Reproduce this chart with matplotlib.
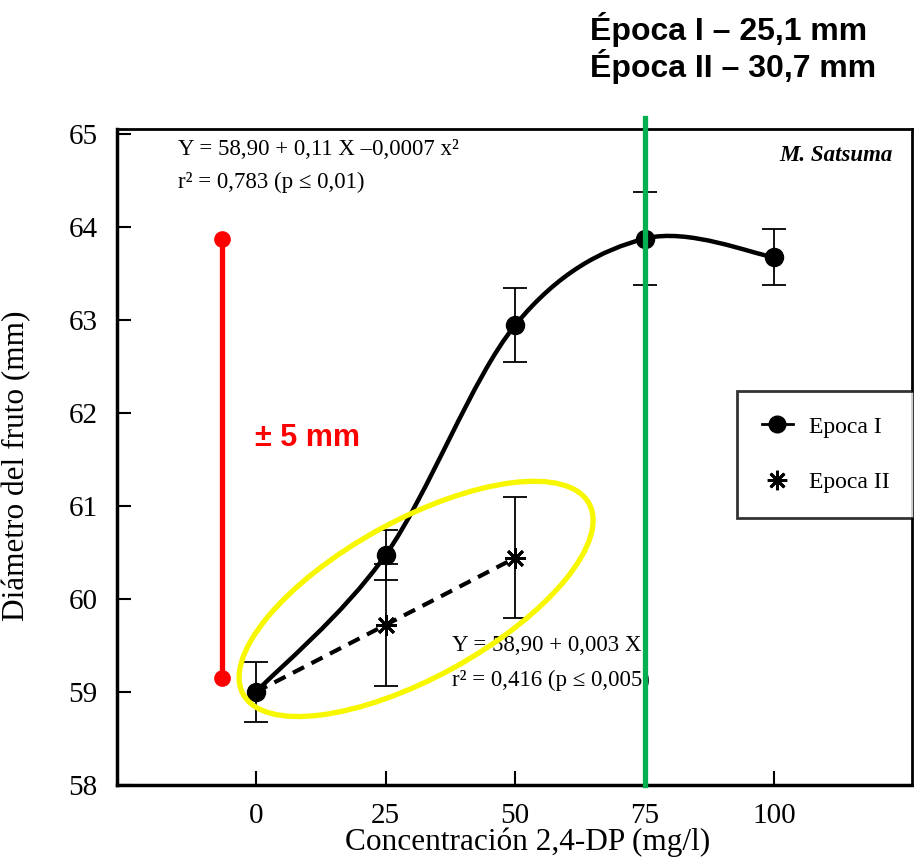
import numpy as np
import matplotlib
matplotlib.use('Agg')
import matplotlib.pyplot as plt
from matplotlib.path import Path
from matplotlib.patches import PathPatch, Ellipse
from matplotlib.lines import Line2D
from matplotlib.transforms import ScaledTranslation

# datos
conc = [0, 25, 50, 75, 100]
epoca1 = [59.00, 60.47, 62.94, 63.87, 63.67]
epoca1_err = [0.32, 0.27, 0.40, 0.50, 0.30]
conc2 = [0, 25, 50]
epoca2 = [59.00, 59.72, 60.44]
epoca2_err = [0.0, 0.66, 0.65]

# anotaciones añadidas
rango_x = -6.6
rango_y = [59.15, 63.87]
linea_verde_x = 75

serif = ['Liberation Serif', 'DejaVu Serif']
sans = ['Liberation Sans', 'DejaVu Sans']
plt.rcParams['font.family'] = serif

fig = plt.figure(figsize=(9.14, 8.59), dpi=100)
ax = fig.add_axes([0.128, 0.0861, 0.870, 0.7639])
ax.set_xlim(-26.8, 126.6)
ax.set_ylim(58, 65.05)

# curva suavizada de Epoca I (Catmull-Rom -> Bezier)
xs = np.array(conc, dtype=float)
ys = np.array(epoca1, dtype=float)
pts = np.column_stack([xs, ys])
ext = np.vstack([pts[0], pts, pts[-1]])
verts = [tuple(pts[0])]
codes = [Path.MOVETO]
for i in range(len(pts) - 1):
    p0, p1, p2, p3 = ext[i], ext[i + 1], ext[i + 2], ext[i + 3]
    c1 = p1 + (p2 - p0) / 6
    c2 = p2 - (p3 - p1) / 6
    verts += [tuple(c1), tuple(c2), tuple(p2)]
    codes += [Path.CURVE4] * 3
ax.add_patch(PathPatch(Path(verts, codes), facecolor='none', edgecolor='black', lw=3.2, zorder=3))

ax.errorbar(conc, epoca1, yerr=epoca1_err, fmt='o', color='black', ms=13,
            ecolor='black', elinewidth=1.3, capsize=8.5, capthick=1.3, zorder=4)

ax.plot(conc2, epoca2, color='black', lw=3, ls=(0, (3, 2)), zorder=3)
ax.errorbar(conc2[1:], epoca2[1:], yerr=epoca2_err[1:], fmt='none',
            ecolor='black', elinewidth=1.3, capsize=8.5, capthick=1.3, zorder=4)
ax.plot(conc2[1:], epoca2[1:], ls='none', marker=(8, 2, 0), ms=15, mew=2.0,
        color='black', zorder=5)

# ejes
for s in ax.spines.values():
    s.set_linewidth(2)
ax.spines['left'].set_linewidth(2.5)
ax.spines['bottom'].set_linewidth(2.5)
ax.set_xticks(conc)
ax.set_yticks(range(58, 66))
ax.tick_params(direction='in', length=10, width=1.5, labelsize=21, pad=13,
               top=False, right=False)
ax.tick_params(axis='y', pad=14)
ax.set_xlabel('Concentración 2,4-DP (mg/l)', fontsize=22.5)
ax.xaxis.set_label_coords(0.517, -0.065)
ax.set_ylabel('Diámetro del fruto (mm)', fontsize=22.5)
ax.yaxis.set_label_coords(-0.108, 0.486)

# textos de la figura original
eq_kw = dict(transform=ax.transAxes, fontsize=16.5, va='center', ha='left')
ax.text(0.077, 0.968, 'Y = 58,90 + 0,11 X –0,0007 x²', **eq_kw)
ax.text(0.077, 0.9185, 'r² = 0,783 (p ≤ 0,01)', **eq_kw)
ax.text(0.421, 0.2134, 'Y = 58,90 + 0,003 X', **eq_kw)
ax.text(0.421, 0.160, 'r² = 0,416 (p ≤ 0,005)', **eq_kw)
ax.text(0.976, 0.975, 'M. Satsuma', transform=ax.transAxes, fontsize=16.5,
        style='italic', weight='bold', va='top', ha='right')

handles = [Line2D([], [], color='black', marker='o', ms=12, lw=2),
           Line2D([], [], color='black', marker=(8, 2, 0), ms=14, mew=2.0, ls='none')]
leg = ax.legend(handles, ['Epoca I', 'Epoca II'], loc='upper left',
                bbox_to_anchor=(0.78, 0.409, 0.222, 0.191), mode='expand',
                fontsize=17, frameon=True, fancybox=False, edgecolor='black',
                handlelength=1.3, handletextpad=0.7, labelspacing=1.45,
                borderpad=1.05, borderaxespad=0)
leg.get_frame().set_linewidth(2)

# anotaciones en color
ax.plot([rango_x, rango_x], rango_y, color='#ff0000', lw=3.8, marker='o', ms=11,
        clip_on=False, zorder=6)
ax.text(0.279, 0.481, '± 5 mm', transform=fig.transFigure, color='#ff0000',
        fontsize=22, weight='bold', family=sans, va='baseline', ha='left')
ax.plot([linea_verde_x, linea_verde_x], [58, 65.17], color='#00b050', lw=3.8,
        clip_on=False, zorder=6)
ell = Ellipse((0, 0), 3.95, 1.57, angle=28.9, facecolor='none', edgecolor='#f7f700',
              lw=3.8, zorder=6,
              transform=fig.dpi_scale_trans + ScaledTranslation(30.9, 60.0, ax.transData))
ax.add_artist(ell)
fig.text(0.6455, 0.953, 'Época I – 25,1 mm', fontsize=23, weight='bold',
         family=sans, va='baseline', ha='left')
fig.text(0.6455, 0.910, 'Época II – 30,7 mm', fontsize=23, weight='bold',
         family=sans, va='baseline', ha='left')

fig.savefig('out.png', dpi=100)
